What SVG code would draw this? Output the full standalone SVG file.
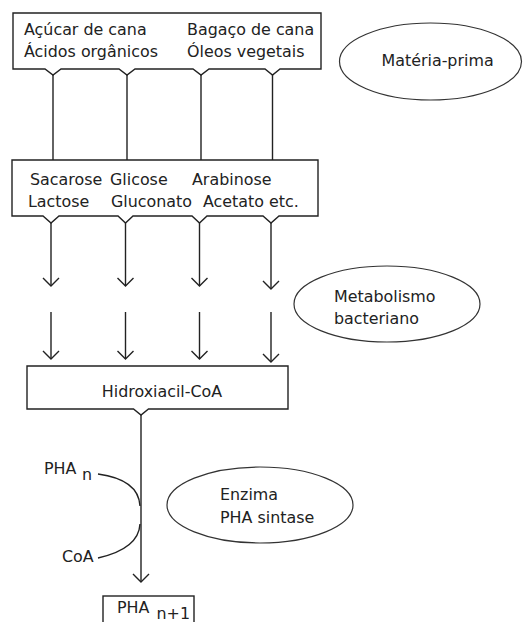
<svg xmlns="http://www.w3.org/2000/svg" width="524" height="622" viewBox="0 0 524 622">
<defs>
<style>
text{font-family:"DejaVu Sans","Liberation Sans",sans-serif;font-size:15.9px;fill:#222}
.box{fill:none;stroke:#222;stroke-width:1.4}
.ell{fill:none;stroke:#333;stroke-width:1.2}
.ln{fill:none;stroke:#222;stroke-width:1.4}
</style>
<marker id="ah" viewBox="0 0 10 18" markerWidth="10" markerHeight="18" refX="9" refY="9" orient="auto" markerUnits="userSpaceOnUse">
<path d="M1,1 L9,9 L1,17" fill="none" stroke="#222" stroke-width="1.4"/>
</marker>
</defs>
<rect width="524" height="622" fill="#fff"/>

<g id="materia-box">
<path class="box" d="M13,13 H321 V69 H280 L272.5,75 L265,69 H209 L201,75 L193,69 H135 L127,75 L119,69 H61 L53,75 L45,69 H13 Z"/>
<text x="24" y="35">Açúcar de cana</text>
<text x="24" y="57">Ácidos orgânicos</text>
<text x="187" y="35">Bagaço de cana</text>
<text x="187" y="57">Óleos vegetais</text>
</g>

<g id="materia-prima">
<ellipse class="ell" cx="430.5" cy="61.5" rx="91" ry="38.5"/>
<text x="381.5" y="66">Matéria-prima</text>
</g>

<g id="acucares-box">
<path class="box" d="M12,160 H318 V216 H279 L271,223 L263,216 H207 L199.5,223 L192,216 H133 L125.5,223 L118,216 H59 L51,223 L43,216 H12 Z"/>
<text x="30" y="185">Sacarose</text>
<text x="110" y="185">Glicose</text>
<text x="192" y="185">Arabinose</text>
<text x="28" y="207">Lactose</text>
<text x="111" y="207">Gluconato</text>
<text x="203" y="207">Acetato etc.</text>
</g>

<g id="metabolismo">
<ellipse class="ell" cx="387" cy="304" rx="93" ry="38"/>
<text x="334" y="302">Metabolismo</text>
<text x="334" y="324">bacteriano</text>
</g>

<g id="hidroxiacil-box">
<path class="box" d="M27,366 H288 V409 H148.5 L141,415 L133.5,409 H27 Z"/>
<text x="162" y="397" text-anchor="middle">Hidroxiacil-CoA</text>
</g>

<g id="enzima">
<ellipse class="ell" cx="260" cy="505" rx="93" ry="38"/>
<text x="220" y="500">Enzima</text>
<text x="220" y="523">PHA sintase</text>
</g>

<g id="pha-n">
<text x="44" y="474">PHA</text>
<text x="82" y="480">n</text>
</g>

<g id="coa">
<text x="62" y="562">CoA</text>
</g>

<g id="pha-n1">
<rect class="box" x="103" y="596" width="91" height="40"/>
<text x="117" y="613">PHA</text>
<text x="156.5" y="618.5">n+1</text>
</g>

<g id="connectors">
<path class="ln" d="M53,75 V160"/>
<path class="ln" d="M127,75 V160"/>
<path class="ln" d="M201,75 V160"/>
<path class="ln" d="M272.5,75 V160"/>
<path class="ln" d="M51,223 V286" marker-end="url(#ah)"/>
<path class="ln" d="M125.5,223 V286" marker-end="url(#ah)"/>
<path class="ln" d="M199.5,223 V286" marker-end="url(#ah)"/>
<path class="ln" d="M271,223 V289" marker-end="url(#ah)"/>
<path class="ln" d="M51,312 V359" marker-end="url(#ah)"/>
<path class="ln" d="M125.5,312 V359" marker-end="url(#ah)"/>
<path class="ln" d="M199.5,312 V359" marker-end="url(#ah)"/>
<path class="ln" d="M271,312 V362" marker-end="url(#ah)"/>
<path class="ln" d="M141,415 V582" marker-end="url(#ah)"/>
<path class="ln" d="M98,474 C120,477 139,486 140,506"/>
<path class="ln" d="M140,524 C139,543 120,553 98,558"/>
</g>
</svg>
